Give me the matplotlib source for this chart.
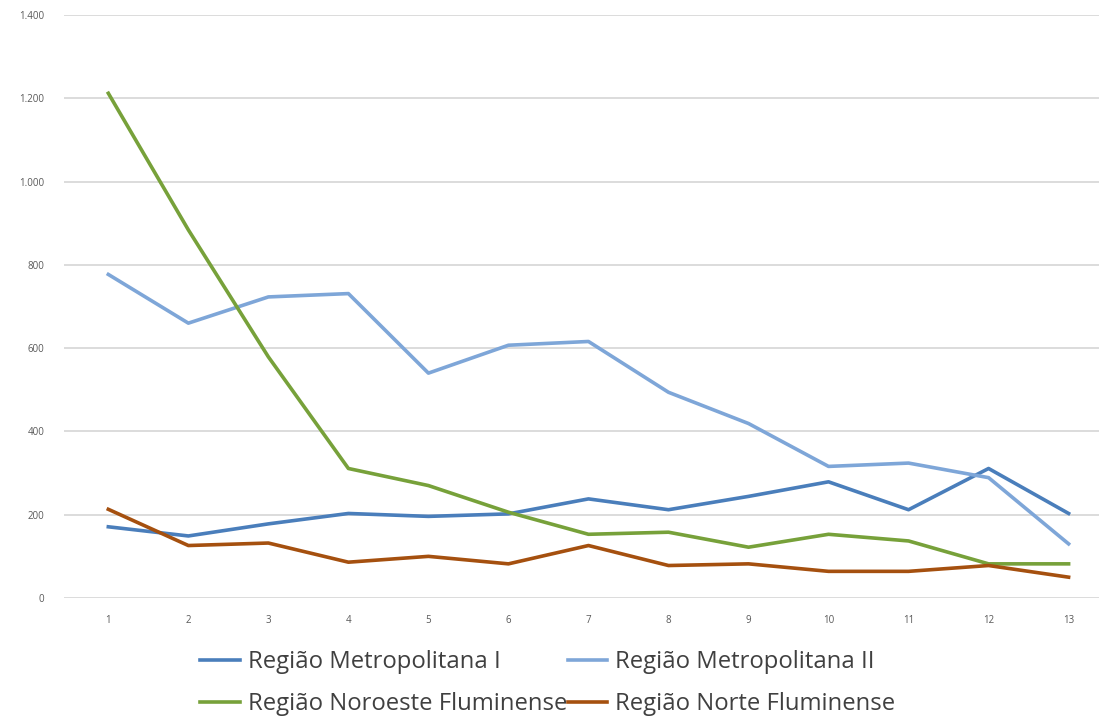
import numpy as np
import matplotlib.pyplot as plt
import matplotlib.ticker as mticker

plt.rcParams['font.family'] = ['Open Sans', 'DejaVu Sans']

x = np.arange(1, 14)
metro1 = [171, 149, 178, 203, 196, 202, 238, 212, 244, 279, 212, 311, 203]
metro2 = [777, 660, 723, 731, 540, 607, 616, 494, 419, 316, 324, 289, 130]
noroeste = [1212, 884, 579, 311, 270, 206, 153, 158, 122, 153, 137, 82, 82]
norte = [213, 126, 132, 86, 100, 82, 126, 78, 82, 64, 64, 78, 50]

labels = ["Região Metropolitana I", "Região Metropolitana II",
          "Região Noroeste Fluminense", "Região Norte Fluminense"]
colors = ["#4a7ebb", "#7ea6d8", "#77a13a", "#a5500f"]

fig = plt.figure(figsize=(10.99, 7.2), dpi=100)
ax = fig.add_axes([64/1099, 1 - 598/720, 1 - 64/1099, (598 - 15)/720])

for ys, lab, c in zip([metro1, metro2, noroeste, norte], labels, colors):
    ax.plot(x, ys, color=c, linewidth=2.6, label=lab, solid_joinstyle='round')

ax.set_xlim(0.446, 13.38)
ax.set_ylim(0, 1400)
ax.set_xticks(x)
ax.set_yticks(np.arange(0, 1401, 200))
ax.yaxis.set_major_formatter(mticker.FuncFormatter(lambda v, p: f"{int(v):,}".replace(",", ".")))
ax.grid(axis='y', color='#d9d9d9', linewidth=1.3)
ax.set_axisbelow(True)
for s in ax.spines.values():
    s.set_visible(False)
ax.tick_params(length=0, labelsize=7, colors='#595959', pad=14)
ax.tick_params(axis='x', pad=12)

# swap order so legend rows read left to right
h, l = ax.get_legend_handles_labels()
order = [0, 2, 1, 3]
fig.legend([h[i] for i in order], [l[i] for i in order], ncol=2,
           loc='center', bbox_to_anchor=(548/1099, 1 - 683/720), frameon=False,
           fontsize=17.2, labelcolor='#404040', handlelength=1.65, handletextpad=0.35,
           columnspacing=0.0, labelspacing=0.75, borderpad=0)

fig.savefig("out.png", dpi=100)
